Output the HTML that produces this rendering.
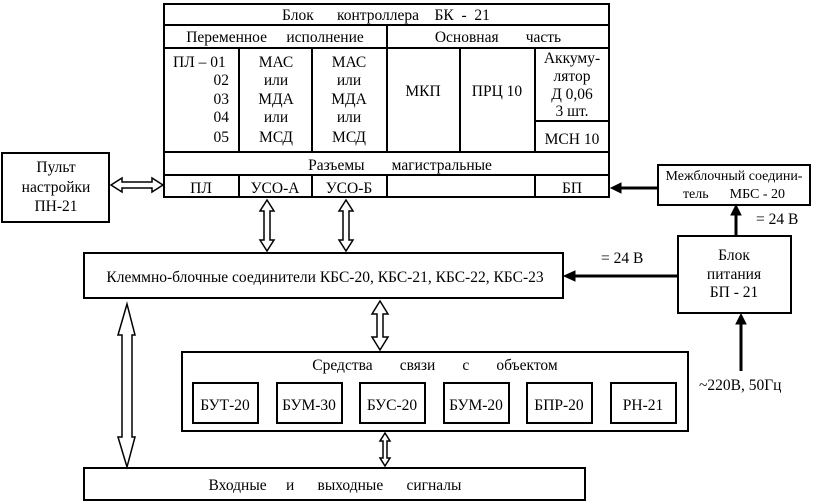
<!DOCTYPE html>
<html><head><meta charset="utf-8"><style>
html,body{margin:0;padding:0;background:#fff;}
svg{display:block;}
text{font-family:"Liberation Serif","DejaVu Serif",serif;font-size:15.5px;fill:#000;}
</style></head><body>
<svg width="826" height="503" viewBox="0 0 826 503" xmlns="http://www.w3.org/2000/svg">
<g fill="none" stroke="#000" stroke-width="2">
<rect x="164" y="4" width="445" height="193"/>
<line x1="164" y1="25" x2="609" y2="25"/>
<line x1="164" y1="48" x2="609" y2="48"/>
<line x1="164" y1="152" x2="609" y2="152"/>
<line x1="164" y1="175" x2="609" y2="175"/>
<line x1="387" y1="25" x2="387" y2="152"/>
<line x1="239" y1="48" x2="239" y2="152"/>
<line x1="312" y1="48" x2="312" y2="152"/>
<line x1="460" y1="48" x2="460" y2="152"/>
<line x1="535" y1="48" x2="535" y2="152"/>
<line x1="535" y1="121" x2="609" y2="121"/>
<line x1="239" y1="175" x2="239" y2="197"/>
<line x1="312" y1="175" x2="312" y2="197"/>
<line x1="387" y1="175" x2="387" y2="197"/>
<line x1="535" y1="175" x2="535" y2="197"/>
<rect x="2" y="153" width="107" height="69"/>
<rect x="84" y="253" width="479" height="45"/>
<rect x="658" y="165" width="152" height="40"/>
<rect x="678" y="236" width="113" height="77"/>
<rect x="182" y="352" width="506" height="79"/>
<rect x="193" y="383" width="65" height="40"/>
<rect x="277" y="383" width="65" height="40"/>
<rect x="360" y="383" width="65" height="40"/>
<rect x="444" y="383" width="65" height="40"/>
<rect x="527" y="383" width="65" height="40"/>
<rect x="611" y="383" width="65" height="40"/>
<rect x="84" y="468" width="501" height="32"/>
</g>
<g fill="#fff" stroke="#000" stroke-width="1.5">
<path d="M111,185 L122,178 L122,182 L152,182 L152,178 L163,185 L152,192 L152,188 L122,188 L122,192 Z"/>
<path d="M267,200 L274,211 L270,211 L270,240 L274,240 L267,251 L260,240 L264,240 L264,211 L260,211 Z"/>
<path d="M346,200 L353,211 L349,211 L349,240 L353,240 L346,251 L339,240 L343,240 L343,211 L339,211 Z"/>
<path d="M380,301 L388,314 L383,314 L383,337 L388,337 L380,350 L372,337 L377,337 L377,314 L372,314 Z"/>
<path d="M385,433 L390,441 L387,441 L387,458 L390,458 L385,466 L380,458 L383,458 L383,441 L380,441 Z"/>
<path d="M127,304 L135,335 L132,335 L132,437 L135,437 L127,467 L118,437 L122,437 L122,335 L118,335 Z"/>
</g>
<g stroke="#000" stroke-width="3" fill="#000">
<line x1="658" y1="188" x2="620" y2="188"/>
<path d="M611,188 L621,183 L621,193 Z" stroke-width="1"/>
<line x1="736" y1="236" x2="736" y2="214"/>
<path d="M736,205 L731,215 L741,215 Z" stroke-width="1"/>
<line x1="678" y1="276" x2="574" y2="276"/>
<path d="M564,276 L575,271 L575,281 Z" stroke-width="1"/>
<line x1="741" y1="371" x2="741" y2="322"/>
<path d="M741,314 L736,324 L746,324 Z" stroke-width="1"/>
</g>
<g>
<text x="386" y="20" text-anchor="middle" xml:space="preserve">Блок      контроллера    БК  -  21</text>
<text x="275" y="42" text-anchor="middle" xml:space="preserve">Переменное     исполнение</text>
<text x="498" y="42" text-anchor="middle" xml:space="preserve">Основная       часть</text>
<text x="173" y="67">ПЛ – 01</text>
<text x="229" y="85" text-anchor="end">02</text>
<text x="229" y="104" text-anchor="end">03</text>
<text x="229" y="122" text-anchor="end">04</text>
<text x="229" y="142" text-anchor="end">05</text>
<g text-anchor="middle">
<text x="276" y="67">МАС</text><text x="276" y="85">или</text><text x="276" y="104">МДА</text><text x="276" y="122">или</text><text x="276" y="142">МСД</text>
<text x="349" y="67">МАС</text><text x="349" y="85">или</text><text x="349" y="104">МДА</text><text x="349" y="122">или</text><text x="349" y="142">МСД</text>
<text x="423" y="96">МКП</text>
<text x="497" y="96">ПРЦ 10</text>
<text x="572" y="63">Аккуму-</text>
<text x="572" y="81">лятор</text>
<text x="572" y="99">Д 0,06</text>
<text x="572" y="116">3 шт.</text>
<text x="572" y="144">МСН 10</text>
<text x="400" y="170" xml:space="preserve">Разъемы       магистральные</text>
<text x="201" y="193">ПЛ</text>
<text x="275" y="193">УСО-А</text>
<text x="349" y="193">УСО-Б</text>
<text x="572" y="193">БП</text>
<text x="56" y="172">Пульт</text>
<text x="56" y="192">настройки</text>
<text x="56" y="211">ПН-21</text>
<text x="734" y="180" style="font-size:14px">Межблочный соедини-</text>
<text x="734" y="198" style="font-size:14px" xml:space="preserve">тель      МБС - 20</text>
<text x="734" y="260">Блок</text>
<text x="734" y="279">питания</text>
<text x="734" y="297">БП - 21</text>
<text x="325" y="282">Клеммно-блочные соединители КБС-20, КБС-21, КБС-22, КБС-23</text>
<text x="435" y="370" xml:space="preserve">Средства       связи       с       объектом</text>
<text x="225" y="410">БУТ-20</text>
<text x="309" y="410">БУМ-30</text>
<text x="392" y="410">БУС-20</text>
<text x="476" y="410">БУМ-20</text>
<text x="559" y="410">БПР-20</text>
<text x="643" y="410">РН-21</text>
<text x="335" y="490" xml:space="preserve">Входные     и      выходные      сигналы</text>
</g>
<text x="756" y="224">= 24 В</text>
<text x="601" y="263">= 24 В</text>
<text x="699" y="390">~220В, 50Гц</text>
</g>
</svg>
</body></html>
